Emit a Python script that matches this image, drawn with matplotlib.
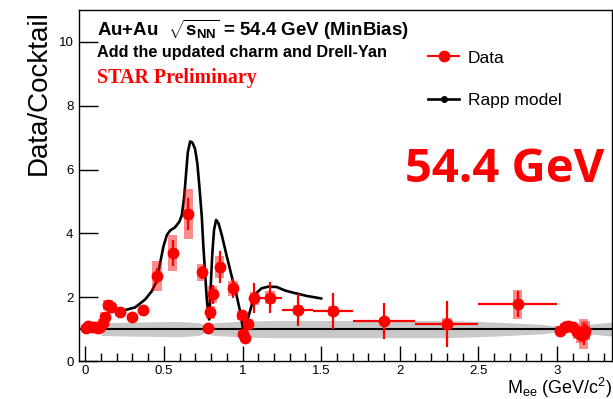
import matplotlib

matplotlib.use("Agg")
import matplotlib.pyplot as plt
import numpy as np
from matplotlib.lines import Line2D

plt.rcParams["font.family"] = ["Liberation Sans", "DejaVu Sans"]
plt.rcParams["mathtext.fontset"] = "custom"
plt.rcParams["mathtext.rm"] = "Liberation Sans"
plt.rcParams["mathtext.it"] = "Liberation Sans:italic"
plt.rcParams["mathtext.bf"] = "Liberation Sans:bold"

# data / cocktail ratio
mass = [0.005, 0.02, 0.04, 0.06, 0.08, 0.095, 0.11, 0.125, 0.145, 0.165, 0.22,
        0.295, 0.37, 0.455, 0.555, 0.655, 0.74, 0.78, 0.796, 0.81, 0.855, 0.94,
        0.995, 1.005, 1.015, 1.035, 1.075, 1.175, 1.35, 1.575, 1.9, 2.3, 2.75,
        3.02, 3.05, 3.07, 3.10, 3.13, 3.15, 3.17, 3.18]
ratio = [1.02, 1.1, 1.08, 1.05, 1.03, 1.08, 1.2, 1.38, 1.75, 1.7, 1.52,
         1.38, 1.6, 2.66, 3.38, 4.6, 2.78, 1.03, 1.52, 2.09, 2.95, 2.28,
         1.43, 0.85, 0.72, 1.16, 1.96, 1.99, 1.59, 1.57, 1.26, 1.16, 1.78,
         0.95, 1.05, 1.1, 1.05, 0.9, 0.8, 0.85, 0.95]
mass_err = [0.005, 0.01, 0.01, 0.01, 0.01, 0.005, 0.005, 0.005, 0.01, 0.01, 0.02,
            0.025, 0.025, 0.03, 0.03, 0.03, 0.02, 0.005, 0.005, 0.01, 0.025, 0.03,
            0.005, 0.005, 0.005, 0.01, 0.025, 0.075, 0.1, 0.125, 0.2, 0.2, 0.25,
            0.01, 0.01, 0.01, 0.01, 0.01, 0.01, 0.01, 0.01]
stat_err = [0.05, 0.05, 0.05, 0.05, 0.05, 0.05, 0.08, 0.1, 0.1, 0.1, 0.08,
            0.08, 0.1, 0.25, 0.4, 0.5, 0.2, 0.05, 0.15, 0.3, 0.5, 0.3,
            0.15, 0.1, 0.08, 0.15, 0.47, 0.5, 0.5, 0.57, 0.56, 0.72, 0.4,
            0.1, 0.1, 0.1, 0.1, 0.12, 0.15, 0.35, 0.2]
sys_err = [0.1, 0.1, 0.1, 0.1, 0.1, 0.1, 0.12, 0.15, 0.15, 0.15, 0.1,
           0.1, 0.12, 0.47, 0.57, 0.78, 0.27, 0.08, 0.2, 0.27, 0.35, 0.23,
           0.15, 0.12, 0.1, 0.15, 0.2, 0.2, 0.15, 0.15, 0.1, 0.2, 0.45,
           0.15, 0.15, 0.15, 0.15, 0.2, 0.25, 0.47, 0.3]

# Rapp model / cocktail
rapp_mass = [0.2, 0.233, 0.317, 0.381, 0.423, 0.444, 0.455, 0.476, 0.497, 0.519,
             0.54, 0.571, 0.599, 0.614, 0.629, 0.641, 0.652, 0.667, 0.681, 0.698,
             0.713, 0.726, 0.741, 0.751, 0.762, 0.773, 0.783, 0.788, 0.798, 0.808,
             0.819, 0.832, 0.847, 0.868, 0.9, 0.931, 0.963, 0.984, 1.0, 1.01,
             1.027, 1.048, 1.069, 1.09, 1.122, 1.164, 1.217, 1.27, 1.323, 1.408, 1.5]
rapp_ratio = [1.52, 1.57, 1.68, 1.93, 2.19, 2.4, 2.55, 3.07, 3.59, 3.95,
              4.09, 4.19, 4.37, 4.57, 5.14, 5.87, 6.54, 6.88, 6.85, 6.65,
              6.18, 5.45, 4.52, 3.59, 2.76, 1.93, 1.42, 1.3, 2.35, 3.38,
              4.11, 4.42, 4.32, 3.95, 3.28, 2.66, 2.04, 1.57, 1.1, 0.9,
              1.21, 1.57, 1.93, 2.14, 2.28, 2.33, 2.32, 2.21, 2.14, 2.04, 1.96]

# cocktail systematic band (half width around 1)
band_mass = [0.1, 0.3, 0.6, 0.72, 0.76, 0.82, 0.9, 1.0, 1.2, 2.0, 2.3, 2.6, 2.9, 3.02, 3.1, 3.35]
band_half = [0.2, 0.22, 0.24, 0.2, 0.12, 0.2, 0.22, 0.25, 0.27, 0.27, 0.27, 0.22, 0.15, 0.08, 0.1, 0.22]

fig = plt.figure(figsize=(6.13, 3.99), dpi=100)
ax = fig.add_axes([79 / 613, 38 / 399, 533 / 613, 351 / 399])

bm = np.asarray(band_mass)
bh = np.asarray(band_half)
ax.fill_between(bm, 1 - bh, 1 + bh, color="#c8c8c8", lw=0, zorder=1)
ax.axhline(1.0, color="black", lw=1.5, zorder=2)

ax.plot(rapp_mass, rapp_ratio, color="black", lw=1.9, zorder=3, solid_joinstyle="round")

m = np.asarray(mass)
r = np.asarray(ratio)
s = np.asarray(sys_err)
ax.bar(m, 2 * s, bottom=r - s, width=0.06, color="#ff0000", alpha=0.45, lw=0, zorder=4)
ax.errorbar(m, r, xerr=mass_err, yerr=stat_err, fmt="o", color="#ff0000",
            ms=7.5, elinewidth=1.6, capsize=0, zorder=5)

ax.set_xlim(-0.04, 3.35)
ax.set_ylim(0, 11)
ax.set_xticks([0, 0.5, 1, 1.5, 2, 2.5, 3], labels=["0", "0.5", "1", "1.5", "2", "2.5", "3"])
ax.set_xticks(np.arange(0, 3.35, 0.1), minor=True)
ax.set_yticks([0, 2, 4, 6, 8, 10])
ax.tick_params(which="both", direction="in", top=False, right=False, labelsize=9.5)
ax.tick_params(axis="y", which="major", length=14, width=1, pad=4)
ax.tick_params(axis="x", which="major", length=11, width=1, pad=3)
ax.tick_params(axis="x", which="minor", length=6, width=1)
for sp in ax.spines.values():
    sp.set_linewidth(1)

handles = [
    Line2D([], [], color="#ff0000", marker="o", ms=7.5, lw=1.5),
    Line2D([], [], color="black", marker="o", ms=4, lw=1.9),
]
ax.legend(handles, ["Data", "Rapp model"], loc="upper left", bbox_to_anchor=(0.655, 0.885),
          frameon=False, fontsize=12.5, handlelength=1.8, handletextpad=0.5,
          labelspacing=1.6, borderpad=0, borderaxespad=0)

W, H = 613, 399
fig.text(97 / W, 1 - 35.5 / H, r"Au+Au  $\sqrt{\mathbf{s}_{\mathbf{NN}}}$ = 54.4 GeV (MinBias)",
         fontsize=13.5, fontweight="bold", va="baseline", ha="left")
fig.text(97 / W, 1 - 57 / H, "Add the updated charm and Drell-Yan",
         fontsize=11.7, fontweight="bold", va="baseline", ha="left")
fig.text(97 / W, 1 - 83 / H, "STAR Preliminary", family="Liberation Serif",
         fontsize=14.4, fontweight="bold", color="#ff0000", va="baseline", ha="left")
fig.text(604 / W, 1 - 182 / H, "54.4 GeV", family="Open Sans", fontsize=34,
         fontweight="bold", color="#ff0000", va="baseline", ha="right")

fig.text(39 / W, 1 - 10 / H, "Data/Cocktail", rotation=90, fontsize=20,
         ha="center", va="top")
fig.text(612 / W, 1 - 394 / H, r"M$_{\mathrm{ee}}$ (GeV/c$^{2}$)", fontsize=13,
         ha="right", va="baseline")

fig.savefig("out.png", dpi=100)
